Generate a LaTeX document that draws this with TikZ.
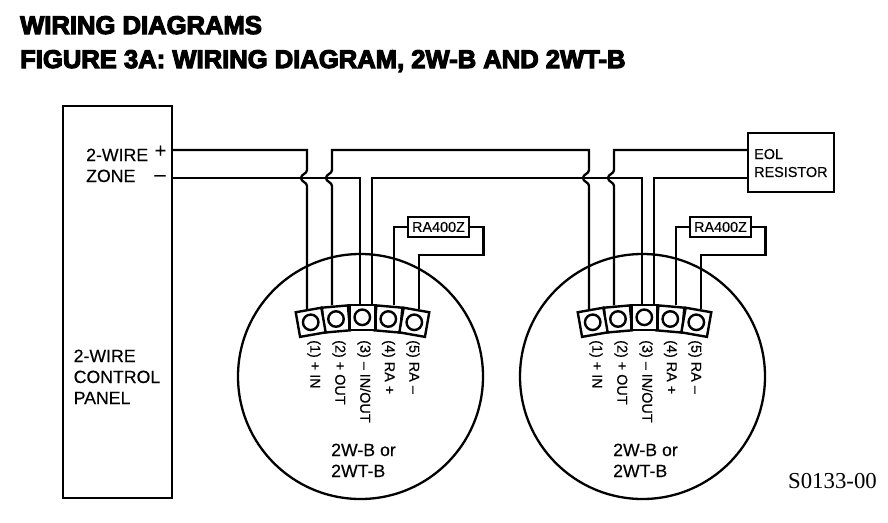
\documentclass[tikz,border=0pt]{standalone}
\usepackage{fontspec}
\setmainfont[FakeBold=0.35]{Liberation Sans}
\newfontfamily\heavyfont[FakeBold=4.5]{Liberation Sans Bold}
\newfontfamily\serifid{Liberation Serif}
\tikzset{
  wire/.style={line width=2.3pt,line join=miter},
  boxed/.style={draw,line width=2.3pt,inner sep=0pt},
  term/.style={draw,fill=white,line width=2.4pt,minimum width=26pt,minimum height=25pt,inner sep=0pt},
  screw/.style={draw,circle,line width=2.4pt,minimum size=15.5pt,inner sep=0pt},
  txt/.style={inner sep=0pt,font=\fontsize{17.7}{21}\selectfont,align=left,anchor=base west},
  small/.style={inner sep=0pt,font=\fontsize{14.4}{18}\selectfont},
  pin/.style={small,rotate=-90,anchor=west},
  ttl/.style={inner sep=0pt,anchor=base west,font=\fontsize{25.6}{30}\heavyfont}
}
\begin{document}
\begin{tikzpicture}[x=1pt,y=-1pt]
\useasboundingbox (0,0) rectangle (888,522);
\node[ttl] (title1) at (20,34) {WIRING DIAGRAMS};
\node[ttl] (title2) at (20,68) {FIGURE 3A: WIRING DIAGRAM, 2W-B AND 2WT-B};
\node[boxed,minimum width=109pt,minimum height=392pt] (panel) at (117.5,302) {};
\node[txt] (zonelbl) at (86,161) {2-WIRE};
\node[txt] (zonelbl2) at (86,182) {ZONE};
\node[inner sep=0pt,font=\fontsize{20}{24}\selectfont] (plussign) at (160.5,151.5) {+};
\node[inner sep=0pt,font=\fontsize{20}{24}\selectfont] (minussign) at (160,178) {–};
\node[txt] (pl1) at (73.5,362) {2-WIRE};
\node[txt] (pl2) at (73.5,383) {CONTROL};
\node[txt] (pl3) at (73.5,404) {PANEL};
\node[boxed,minimum width=86pt,minimum height=59pt] (eol) at (791,162.5) {};
\node[small,anchor=base west] (eol1) at (754,159) {EOL};
\node[small,anchor=base west] (eol2) at (754,177) {RESISTOR};
\node[inner sep=0pt,anchor=base east,font=\fontsize{22.8}{26}\serifid] (code) at (877,488) {S0133-00};
\foreach \d/\sx in {a/0,b/282}{
  \node[draw,circle,line width=2.3pt,minimum size=245pt,inner sep=0pt] (det\d) at (360.5+\sx,376.5) {};
  \node[term,rotate=5] (\d2) at (336+\sx,319) {};
  \node[term,rotate=-5] (\d4) at (388.3+\sx,319) {};
  \node[term,rotate=10] (\d1) at (310.7+\sx,322.3) {};
  \node[term,rotate=-10] (\d5) at (414.3+\sx,322.3) {};
  \node[term] (\d3) at (362.3+\sx,317.3) {};
  \foreach \n in {1,...,5}{\node[screw] (s\d\n) at (\d\n) {};}
  \node[boxed,minimum width=61pt,minimum height=20pt,font=\fontsize{14.4}{18}\selectfont] (ra\d) at (438.5+\sx,227) {RA400Z};
  \draw[wire] (ra\d.west) -- (394+\sx,227) -- (394+\sx,0 |- \d4.north);
  \draw[wire] (ra\d.east) -- (483.5+\sx,227) -- (483.5+\sx,255) -- (419+\sx,255) -- (419+\sx,0 |- \d5.north);
  \node[pin] (la\d1) at (314+\sx,340) {(1) + IN};
  \node[pin] (la\d2) at (339+\sx,340) {(2) + OUT};
  \node[pin] (la\d3) at (364+\sx,340) {(3) – IN/OUT};
  \node[pin] (la\d4) at (388.5+\sx,340) {(4) RA +};
  \node[pin] (la\d5) at (413+\sx,340) {(5) RA –};
  \node[txt] (nm\d1) at (331+\sx,456) {2W-B or};
  \node[txt] (nm\d2) at (331+\sx,477) {2WT-B};
}
\coordinate (plus) at (panel.east |- 0,150);
\coordinate (minus) at (panel.east |- 0,178);
\coordinate (eolp) at (eol.west |- 0,150);
\coordinate (eolm) at (eol.west |- 0,178);
% horizontal minus runs
\draw[wire] (minus) -- (360,178) -- (360,0 |- a3.north);
\draw[wire] (372,0 |- a3.north) -- (372,178) -- (642,178) -- (642,0 |- b3.north);
\draw[wire] (654,0 |- b3.north) -- (654,178) -- (eolm);
% plus runs with hops over the minus line
\draw[wire] (plus) -- (307,150) -- (307,170)
  .. controls (307,174) and (301,174) .. (301,178)
  .. controls (301,182) and (307,182) .. (307,186) -- (307,0 |- a1.north);
\draw[wire] (332,0 |- a2.north) -- (332,186)
  .. controls (332,182) and (326,182) .. (326,178)
  .. controls (326,174) and (332,174) .. (332,170) -- (332,150) -- (589,150) -- (589,170)
  .. controls (589,174) and (583,174) .. (583,178)
  .. controls (583,182) and (589,182) .. (589,186) -- (589,0 |- b1.north);
\draw[wire] (614,0 |- b2.north) -- (614,186)
  .. controls (614,182) and (608,182) .. (608,178)
  .. controls (608,174) and (614,174) .. (614,170) -- (614,150) -- (eolp);
\end{tikzpicture}
\end{document}
